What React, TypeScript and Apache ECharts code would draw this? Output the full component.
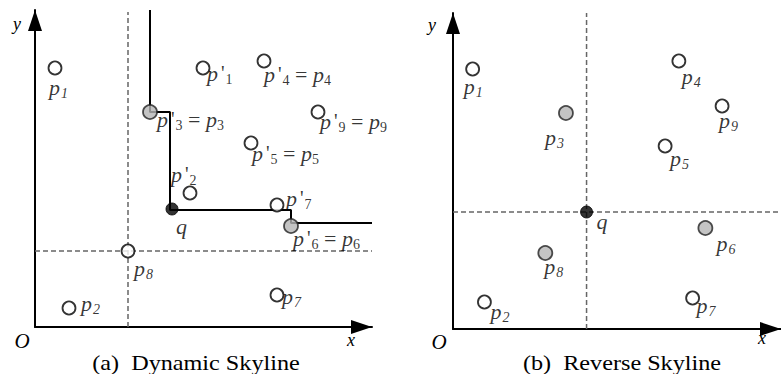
import React, { useEffect, useRef } from "react";
import * as echarts from "echarts";

// ---------- Panel (a): Dynamic Skyline ----------
const leftNames = ["p1", "p'1", "p'4", "p'3", "p'9", "p'5", "p'2", "q", "p'7", "p'6", "p8", "p2", "p7"];
const leftX = [20, 168, 229, 115, 283, 216, 155, 137, 242, 256, 93, 34, 242];
const leftY = [259, 259, 266, 215, 215, 184, 134, 118, 122, 101, 76, 19, 32];
const leftKind = ["open", "open", "open", "sky", "open", "open", "open", "query", "open", "sky", "open", "open", "open"];
const leftLabels = [
  "{i|p}{si|1}",
  "{i|p}{pr|'}{s|1}",
  "{i|p}{pr|'}{s|4}{eq| = }{i|p}{s|4}",
  "{i|p}{pr|'}{s|3}{eq| = }{i|p}{s|3}",
  "{i|p}{pr|'}{s|9}{eq| = }{i|p}{s|9}",
  "{i|p}{pr|'}{s|5}{eq| = }{i|p}{s|5}",
  "{i|p}{pr|'}{s|2}",
  "{i|q}",
  "{i|p}{pr|'}{s|7}",
  "{i|p}{pr|'}{s|6}{eq| = }{i|p}{s|6}",
  "{i|p}{si|8}",
  "{i|p}{si|2}",
  "{i|p}{si|7}",
];
const leftLabelOffsets = [[-6, 19], [4, 5], [0, 13], [7, 7], [2, 9], [1, 10], [-19, -19], [4, 17], [9, -7], [2, 12], [6, 17], [12, -5], [5, 1]];
const leftSkylineX = [115, 115, 135, 135, 256, 256, 337];
const leftSkylineY = [317, 215, 215, 117, 117, 104, 104];
const leftDashVX = [93, 93];
const leftDashVY = [0, 315];
const leftDashHX = [0, 337];
const leftDashHY = [76, 76];

// ---------- Panel (b): Reverse Skyline ----------
const rightNames = ["p1", "p3", "p4", "p9", "p5", "q", "p6", "p7", "p8", "p2"];
const rightX = [20, 115, 230, 274, 216, 136, 257, 244, 94, 32];
const rightY = [260, 216, 268, 223, 183, 117, 101, 31, 76, 27];
const rightKind = ["open", "sky", "open", "open", "open", "query", "sky", "open", "sky", "open"];
const rightLabels = [
  "{i|p}{si|1}",
  "{i|p}{si|3}",
  "{i|p}{si|4}",
  "{i|p}{si|9}",
  "{i|p}{si|5}",
  "{i|q}",
  "{i|p}{si|6}",
  "{i|p}{si|7}",
  "{i|p}{si|8}",
  "{i|p}{si|2}",
];
const rightLabelOffsets = [[-9, 17], [-21, 24], [3, 15], [-3, 14], [5, 12], [10, 9], [11, 15], [4, 7], [-1, 13], [6, 9]];
const rightDashVX = [136, 136];
const rightDashVY = [0, 316];
const rightDashHX = [0, 334];
const rightDashHY = [117, 117];

const captions = ["(a)  Dynamic Skyline", "(b)  Reverse Skyline"];

const FF = "Liberation Serif, Times New Roman, serif";
const INK = "#000";

const rich = {
  i: { fontFamily: FF, fontStyle: "italic", fontSize: 22, color: INK, lineHeight: 22 },
  pr: { fontFamily: FF, fontSize: 20, color: INK, lineHeight: 22, padding: [0, 1, 0, 3] },
  s: { fontFamily: FF, fontSize: 14, color: INK, lineHeight: 14, padding: [13, 0, 0, 0] },
  si: { fontFamily: FF, fontStyle: "italic", fontSize: 14, color: INK, lineHeight: 14, padding: [13, 0, 0, 1] },
  eq: { fontFamily: FF, fontSize: 22, color: INK, lineHeight: 22 },
};

const kindStyle: Record<string, any> = {
  open: { size: 13, style: { color: "#fff", borderColor: "#000", borderWidth: 1.8 } },
  sky: { size: 14, style: { color: "#b5b5b5", borderColor: "#222", borderWidth: 1.8 } },
  query: { size: 12, style: { color: "#000", borderColor: "#000", borderWidth: 1 } },
};

function pointData(xs: number[], ys: number[], kinds: string[], labels: string[], offs: number[][], names: string[]) {
  return xs.map((x, k) => ({
    name: names[k],
    value: [x, ys[k]],
    symbolSize: kindStyle[kinds[k]].size,
    itemStyle: kindStyle[kinds[k]].style,
    label: {
      show: true,
      position: "inside",
      align: "left",
      verticalAlign: "middle",
      offset: offs[k],
      formatter: labels[k],
      fontFamily: FF,
      color: INK,
      rich,
    },
  }));
}

function pairs(xs: number[], ys: number[]) {
  return xs.map((x, k) => [x, ys[k]]);
}

function axisPair(gridIndex: number, xMax: number, yMax: number) {
  const common = {
    gridIndex,
    type: "value",
    min: 0,
    axisTick: { show: false },
    axisLabel: { show: false },
    splitLine: { show: false },
  };
  const line = {
    show: true,
    onZero: false,
    symbol: ["none", "triangle"],
    symbolSize: [14, 21],
    symbolOffset: [0, -10.5],
    lineStyle: { color: "#000", width: 2 },
  };
  return {
    x: { ...common, max: xMax, axisLine: line },
    y: { ...common, max: yMax, axisLine: line },
  };
}

const dashStyle = { color: "#666", width: 1.5, type: [5, 3] };

function lineSeries(idx: number, data: number[][], lineStyle: any, z: number) {
  return {
    type: "line",
    xAxisIndex: idx,
    yAxisIndex: idx,
    data,
    symbol: "none",
    showSymbol: false,
    silent: true,
    clip: false,
    lineStyle,
    z,
  };
}

export default function App() {
  const ref = useRef<HTMLDivElement>(null);
  useEffect(() => {
    if (!ref.current) return;
    const chart = echarts.init(ref.current, null, { renderer: "svg" });
    const a = axisPair(0, 337, 317);
    const b = axisPair(1, 334, 316);
    const text = (t: string, x: number, y: number, size: number, italic: boolean, sx = 1) => ({
      type: "text",
      x,
      y,
      scaleX: sx,
      silent: true,
      style: {
        text: t,
        fontFamily: FF,
        fontSize: size,
        fontStyle: italic ? "italic" : "normal",
        fill: INK,
        textAlign: "center",
        textVerticalAlign: "middle",
      },
    });
    chart.setOption({
      animation: false,
      backgroundColor: "#fff",
      grid: [
        { left: 35, top: 10, width: 337, height: 317 },
        { left: 453, top: 13, width: 334, height: 316 },
      ],
      xAxis: [a.x, b.x],
      yAxis: [a.y, b.y],
      series: [
        lineSeries(0, pairs(leftDashVX, leftDashVY), dashStyle, 1),
        lineSeries(0, pairs(leftDashHX, leftDashHY), dashStyle, 1),
        lineSeries(0, pairs(leftSkylineX, leftSkylineY), { color: "#000", width: 2 }, 2),
        lineSeries(1, pairs(rightDashVX, rightDashVY), dashStyle, 1),
        lineSeries(1, pairs(rightDashHX, rightDashHY), dashStyle, 1),
        {
          type: "scatter",
          xAxisIndex: 0,
          yAxisIndex: 0,
          silent: true,
          z: 5,
          data: pointData(leftX, leftY, leftKind, leftLabels, leftLabelOffsets, leftNames),
        },
        {
          type: "scatter",
          xAxisIndex: 1,
          yAxisIndex: 1,
          silent: true,
          z: 5,
          data: pointData(rightX, rightY, rightKind, rightLabels, rightLabelOffsets, rightNames),
        },
      ],
      graphic: [
        text("y", 17, 24, 18, true),
        text("x", 351, 340, 18, true),
        text("O", 22, 341, 21, true),
        text("y", 432, 25, 18, true),
        text("x", 762, 338, 18, true),
        text("O", 439, 342, 21, true),
        text(captions[0], 196, 362, 22, false, 1.1),
        text(captions[1], 622, 362, 22, false, 1.1),
      ],
    });
    return () => chart.dispose();
  }, []);
  return <div ref={ref} style={{ position: "fixed", left: 0, top: 0, width: 781, height: 374 }} />;
}
